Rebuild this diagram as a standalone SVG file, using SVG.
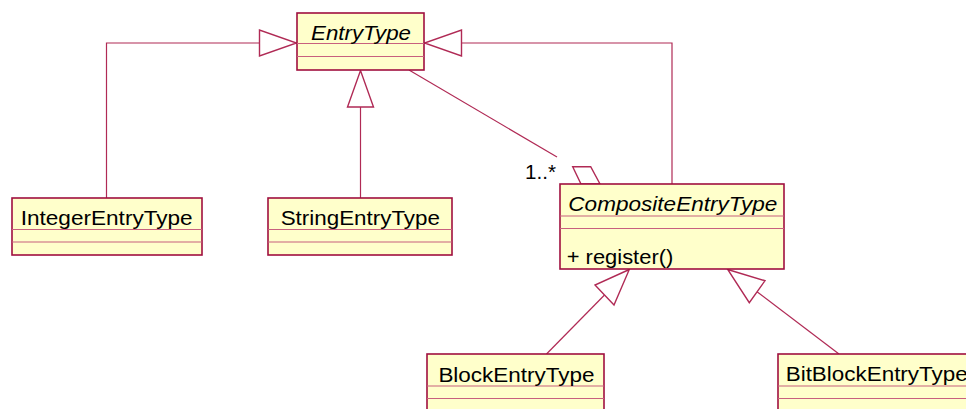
<svg xmlns="http://www.w3.org/2000/svg" width="966" height="409" viewBox="0 0 966 409">
  <style>
    .box { fill: #FFFFCB; stroke: #A0103F; stroke-width: 1.6; }
    .div { stroke: #C8607E; stroke-width: 1.2; fill: none; }
    .lbl { font-family: "Liberation Sans", Arial, sans-serif; font-size: 20px; fill: #000; }
    .abs { font-style: italic; }
    .edge { stroke: #B02A55; stroke-width: 1.2; fill: none; }
    .head { stroke: #B02A55; stroke-width: 1.4; fill: #FFFFFF; stroke-linejoin: miter; }
  </style>

  <!-- connectors: generalizations and aggregation -->
  <g id="connectors">
    <!-- IntegerEntryType -> EntryType -->
    <polyline class="edge" points="106.5,198 106.5,43 259.5,43"/>
    <polygon class="head" points="259.5,30 259.5,56 296.5,43"/>
    <!-- StringEntryType -> EntryType -->
    <line class="edge" x1="360.5" y1="198" x2="360.5" y2="107"/>
    <polygon class="head" points="347.5,107 373.5,107 360.5,70.5"/>
    <!-- CompositeEntryType -> EntryType -->
    <polyline class="edge" points="672,184 672,43 461.5,43"/>
    <polygon class="head" points="461.5,30 461.5,56 424.5,43"/>
    <!-- aggregation: CompositeEntryType holds 1..* EntryType -->
    <line class="edge" x1="409" y1="70" x2="557" y2="157"/>
    <polygon class="head" points="572.7,166.7 590.7,166.7 600,184 581,184"/>
    <text class="lbl" x="525" y="179" textLength="31" lengthAdjust="spacingAndGlyphs">1..*</text>
    <!-- BlockEntryType -> CompositeEntryType -->
    <line class="edge" x1="546.5" y1="354" x2="604.5" y2="295"/>
    <polygon class="head" points="629.3,269.5 595,285 614,305"/>
    <!-- BitBlockEntryType -> CompositeEntryType -->
    <line class="edge" x1="839" y1="354" x2="757" y2="291.7"/>
    <polygon class="head" points="727.7,269.5 765,280.7 749.3,302.7"/>
  </g>

  <g id="EntryType">
    <rect class="box" x="297" y="13" width="127" height="57"/>
    <line class="div" x1="297" y1="43.5" x2="424" y2="43.5"/>
    <line class="div" x1="297" y1="56.5" x2="424" y2="56.5"/>
    <text class="lbl abs" x="311" y="39.5" textLength="100" lengthAdjust="spacingAndGlyphs">EntryType</text>
  </g>

  <g id="IntegerEntryType">
    <rect class="box" x="12" y="198" width="190" height="57"/>
    <line class="div" x1="12" y1="229.5" x2="202" y2="229.5"/>
    <line class="div" x1="12" y1="242" x2="202" y2="242"/>
    <text class="lbl" x="20.7" y="225" textLength="172" lengthAdjust="spacingAndGlyphs">IntegerEntryType</text>
  </g>

  <g id="StringEntryType">
    <rect class="box" x="268" y="198" width="184" height="57"/>
    <line class="div" x1="268" y1="229.5" x2="452" y2="229.5"/>
    <line class="div" x1="268" y1="242" x2="452" y2="242"/>
    <text class="lbl" x="280.7" y="225" textLength="159.3" lengthAdjust="spacingAndGlyphs">StringEntryType</text>
  </g>

  <g id="CompositeEntryType">
    <rect class="box" x="560" y="184" width="224" height="85"/>
    <line class="div" x1="560" y1="216" x2="784" y2="216"/>
    <line class="div" x1="560" y1="228.5" x2="784" y2="228.5"/>
    <text class="lbl abs" x="568.3" y="210.7" textLength="209" lengthAdjust="spacingAndGlyphs">CompositeEntryType</text>
    <text class="lbl" x="566.7" y="264" textLength="106.6" lengthAdjust="spacingAndGlyphs">+ register()</text>
  </g>

  <g id="BlockEntryType">
    <rect class="box" x="427" y="354" width="177" height="62"/>
    <line class="div" x1="427" y1="386" x2="604" y2="386"/>
    <line class="div" x1="427" y1="398.5" x2="604" y2="398.5"/>
    <text class="lbl" x="438.4" y="381.5" textLength="156" lengthAdjust="spacingAndGlyphs">BlockEntryType</text>
  </g>

  <g id="BitBlockEntryType">
    <rect class="box" x="778" y="354" width="200" height="62"/>
    <line class="div" x1="778" y1="386" x2="978" y2="386"/>
    <line class="div" x1="778" y1="398.5" x2="978" y2="398.5"/>
    <text class="lbl" x="785.7" y="381" textLength="182" lengthAdjust="spacingAndGlyphs">BitBlockEntryType</text>
  </g>
</svg>
